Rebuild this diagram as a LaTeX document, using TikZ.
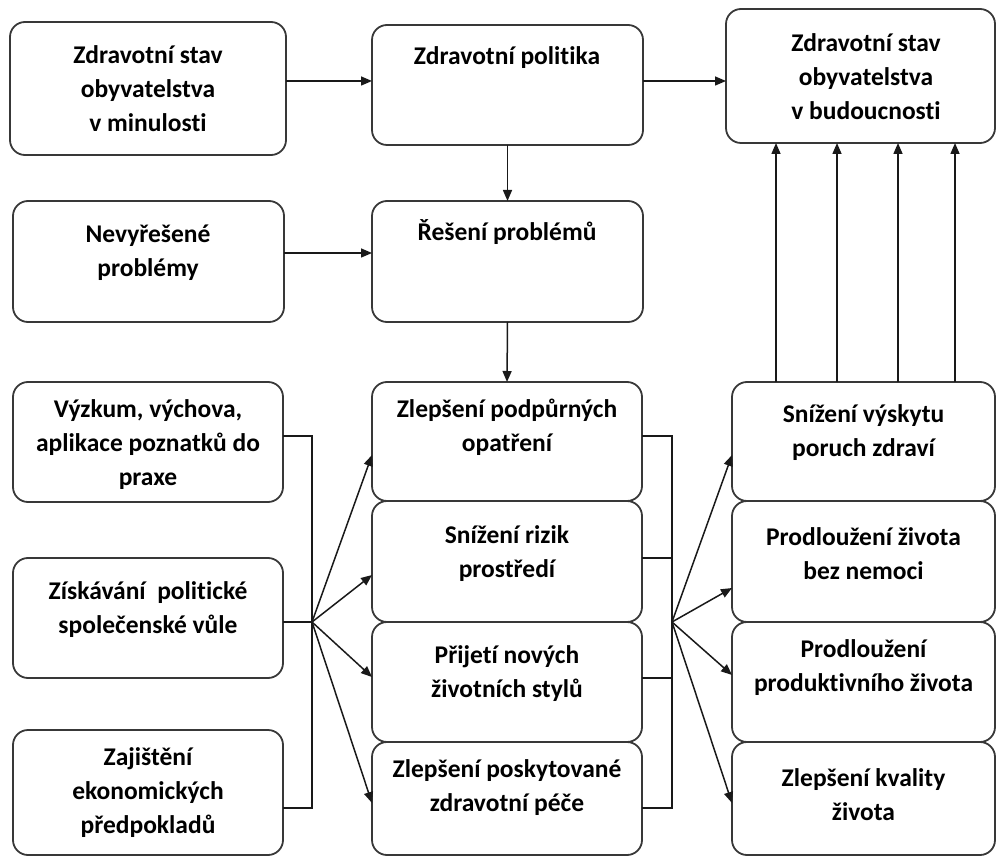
\documentclass[tikz,border=0pt]{standalone}
\usepackage{fontspec}
\setmainfont{Carlito}[Ligatures=NoCommon]
\usetikzlibrary{arrows.meta}
\tikzset{
  box/.style={draw=black!78, line width=1.8pt, rounded corners=15pt, inner sep=0pt, outer sep=0pt},
  txt/.style={align=center, inner sep=0pt, text=black, font=\bfseries\fontsize{25.5}{34}\selectfont},
  conn/.style={draw=black!90, line width=1.5pt},
  arr/.style={conn, -{Triangle[length=11pt,width=9pt]}}
}
\newcommand\mybox[5]{\node[box, minimum width={(#4-#2)*1pt}, minimum height={(#5-#3)*1pt}] (#1) at ({(#2+#4)/2},{(#3+#5)/2}) {};}
\begin{document}
\begin{tikzpicture}[x=1pt,y=-1pt]
\useasboundingbox (0,0) rectangle (998,858);
% boxes
\mybox{A}{10}{22}{286}{155}
\mybox{B}{13}{201}{284}{322}
\mybox{C}{372}{25}{643}{145}
\mybox{D}{372}{201}{643}{322}
\mybox{E}{726}{9}{995}{143}
\mybox{L1}{13}{382}{283}{502}
\mybox{L2}{13}{558}{283}{678}
\mybox{L3}{13}{730}{283}{855}
\mybox{F1}{372}{382}{642}{501}
\mybox{F2}{372}{501}{642}{622}
\mybox{F3}{372}{622}{642}{742}
\mybox{F4}{372}{742}{642}{855}
\mybox{G1}{732}{382}{995}{501}
\mybox{G2}{732}{501}{995}{622}
\mybox{G3}{732}{622}{995}{742}
\mybox{G4}{732}{742}{995}{855}
% texts
\node[txt] (At) at (148,89) {Zdravotní stav\\obyvatelstva\\v minulosti};
\node[txt] (Bt) at (148,253) {Nevyřešené\\problémy};
\node[txt] (Ct) at (507,58) {Zdravotní politika};
\node[txt] (Dt) at (507,232) {Řešení problémů};
\node[txt] (Et) at (866,77) {Zdravotní stav\\obyvatelstva\\v budoucnosti};
\node[txt] (L1t) at (148,445) {Výzkum, výchova,\\aplikace poznatků do\\praxe};
\node[txt] (L2t) at (148,609.5) {Získávání~ politické\\společenské vůle};
\node[txt] (L3t) at (148,793) {Zajištění\\ekonomických\\předpokladů};
\node[txt] (F1t) at (507,427.5) {Zlepšení podpůrných\\opatření};
\node[txt] (F2t) at (507,554) {Snížení rizik\\prostředí};
\node[txt] (F3t) at (507,674) {Přijetí nových\\životních stylů};
\node[txt] (F4t) at (507,787.5) {Zlepšení poskytované\\zdravotní péče};
\node[txt] (G1t) at (863.5,433) {Snížení výskytu\\poruch zdraví};
\node[txt] (G2t) at (863.5,553.5) {Prodloužení života\\bez nemoci};
\node[txt] (G3t) at (863.5,668) {Prodloužení\\produktivního života};
\node[txt] (G4t) at (863.5,794.5) {Zlepšení kvality\\života};
% top connectors
\draw[arr] ([yshift=7.5pt]A.east) -- ([yshift=7.5pt]A.east -| C.west);
\draw[arr] ([yshift=4pt]C.east) -- ([yshift=4pt]C.east -| E.west);
\draw[arr] (C.south) -- (D.north);
\draw[arr] ([yshift=8.5pt]B.east) -- ([yshift=8.5pt]B.east -| D.west);
\draw[arr] (D.south) -- (F1.north);
\foreach \dx in {-87.5,-26.5,34.5,91.5}
  \draw[arr] ([xshift=\dx pt]G1.north) -- ([xshift=\dx pt]G1.north |- E.south);
% left bracket
\coordinate (J1) at (312,622);
\draw[conn] ([yshift=6pt]L1.east) -- ++(29,0) |- ([yshift=-15.5pt]L3.east);
\draw[conn] ([yshift=-4pt]L2.east) -- (J1);
\draw[arr] (J1) -- ([yshift=-13.5pt]F1.west);
\draw[arr] (J1) -- ([yshift=-13.5pt]F2.west);
\draw[arr] (J1) -- ([yshift=5pt]F3.west);
\draw[arr] (J1) -- ([yshift=-4.5pt]F4.west);
% right bracket
\coordinate (J2) at (672,622);
\draw[conn] ([yshift=5.5pt]F1.east) -- ++(30,0) |- ([yshift=-9.5pt]F4.east);
\draw[conn] ([yshift=3.5pt]F2.east) -- ++(30,0);
\draw[conn] ([yshift=4pt]F3.east) -- ++(30,0);
\draw[arr] (J2) -- ([yshift=-13.5pt]G1.west);
\draw[arr] (J2) -- ([yshift=-26.5pt]G2.west);
\draw[arr] (J2) -- ([yshift=7pt]G3.west);
\draw[arr] (J2) -- ([yshift=-4.5pt]G4.west);
\end{tikzpicture}
\end{document}
